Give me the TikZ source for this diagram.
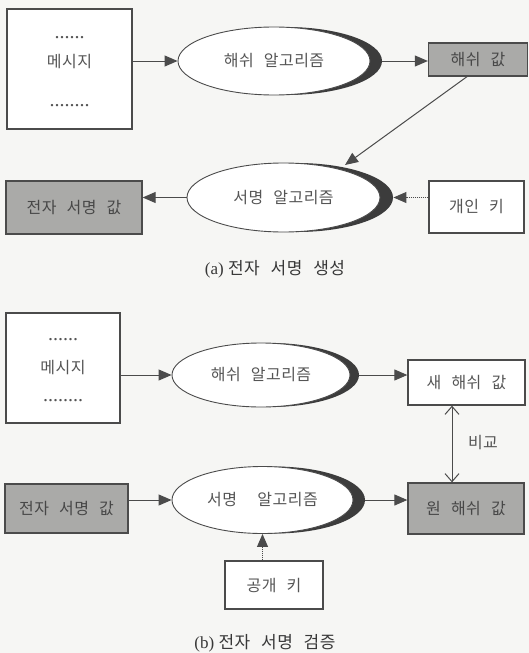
\documentclass[tikz,border=0pt]{standalone}
\usepackage{fontspec}
\setmainfont{Liberation Serif}
\newfontfamily\kr[WordSpace=2.5,LetterSpace=3]{Noto Sans CJK KR}
\usetikzlibrary{shapes.geometric,arrows.meta,calc}
\definecolor{bg}{RGB}{246,246,244}
\definecolor{ln}{RGB}{75,75,75}
\definecolor{tx}{RGB}{85,85,85}
\definecolor{boxgray}{RGB}{170,170,168}
\definecolor{cres}{RGB}{60,60,60}
\begin{document}
\begin{tikzpicture}[x=1pt,y=-1pt,
  lbl/.style={font=\kr\fontsize{16}{18}\selectfont, text=tx},
  box/.style={draw=ln, line width=1.3pt, fill=white, inner sep=0pt, lbl},
  graybox/.style={box, fill=boxgray, text=black!72},
  crescent/.style={preaction={fill=cres, draw=none, transform canvas={xshift=#1}}},
  alg/.style={ellipse, draw=ln, line width=0.9pt, fill=white, inner sep=0pt, lbl},
  arr/.style={draw=ln, line width=1pt, -{Triangle[length=13pt,width=11pt]}},
  dotarr/.style={arr, dash pattern=on 1pt off 1pt},
  cmp/.style={draw=ln, line width=1pt, {Straight Barb[length=8pt,width=14pt,line width=1pt]}-{Straight Barb[length=8pt,width=14pt,line width=1pt]}},
  dots/.style={font=\fontsize{20}{20}\selectfont, text=tx, inner sep=0pt},
  captxt/.style={font=\fontsize{17}{19}\selectfont, text=black!78}
]
\fill[bg] (0,0) rectangle (529,653);
\useasboundingbox (0,0) rectangle (529,653);

% ---------- (a) ----------
\node[box, minimum width=125pt, minimum height=120pt] (msgA) at (69.5,69) {};
\node[dots] (msgAd1) at (69.5,38) {......};
\node[lbl] (msgAt) at (69.5,62) {메시지};
\node[dots] (msgAd2) at (69.5,106) {........};

\node[alg, crescent=12pt, minimum width=192pt, minimum height=68pt] (hashA) at (274,61) {해쉬 알고리즘};
\node[graybox, minimum width=99pt, minimum height=33pt] (hvA) at (478,59.5) {해쉬 값};

\node[alg, crescent=13pt, minimum width=193pt, minimum height=69pt] (sigA) at (283.5,197.5) {서명 알고리즘};
\node[graybox, minimum width=136pt, minimum height=53pt] (sigvA) at (74,207.5) {전자 서명 값};
\node[box, minimum width=95pt, minimum height=52pt] (privK) at (476.5,207) {개인 키};
\coordinate (sigAtip) at (345,165);

\draw[arr] (msgA.east |- hashA.west) -- (hashA.west);
\draw[arr] ($(hashA.east)+(12,0)$) -- (hvA.west |- hashA.east);
\draw[arr] ([xshift=-11pt]hvA.south) -- (sigAtip);
\draw[arr] (sigA.west) -- (sigvA.east |- sigA.west);
\draw[dotarr] (privK.west |- sigA.east) -- ($(sigA.east)+(13,0)$);

\node[captxt] (capA) at (275,269) {(a) {\kr 전자 서명 생성}};

% ---------- (b) ----------
\node[box, minimum width=114pt, minimum height=110pt] (msgB) at (63,368) {};
\node[dots] (msgBd1) at (63,340) {......};
\node[lbl] (msgBt) at (63,368) {메시지};
\node[dots] (msgBd2) at (63,401) {........};

\node[alg, crescent=9pt, minimum width=178pt, minimum height=64pt] (hashB) at (261,375) {해쉬 알고리즘};
\node[box, minimum width=117pt, minimum height=45pt] (newH) at (466.5,382.5) {새 해쉬 값};

\node[alg, crescent=12pt, minimum width=181pt, minimum height=67pt] (sigB) at (262.5,500) {서명 \ 알고리즘};
\node[graybox, minimum width=123pt, minimum height=49pt] (sigvB) at (66.5,508.5) {전자 서명 값};
\node[graybox, minimum width=116pt, minimum height=51pt] (origH) at (466,508.5) {원 해쉬 값};
\node[box, minimum width=98pt, minimum height=48pt] (pubK) at (274,585) {공개 키};
\node[lbl] (cmpL) at (483,443) {비교};

\draw[arr] (msgB.east |- hashB.west) -- (hashB.west);
\draw[arr] ($(hashB.east)+(9,0)$) -- (newH.west |- hashB.east);
\draw[arr] (sigvB.east |- sigB.west) -- (sigB.west);
\draw[arr] ($(sigB.east)+(12,0)$) -- (origH.west |- sigB.east);
\draw[dotarr] (pubK.north -| sigB.south) -- (sigB.south);
\draw[cmp] ([xshift=-14.5pt]newH.south) -- ([xshift=-14pt]origH.north);

\node[captxt] (capB) at (265,643) {(b) {\kr 전자 서명 검증}};
\end{tikzpicture}
\end{document}
